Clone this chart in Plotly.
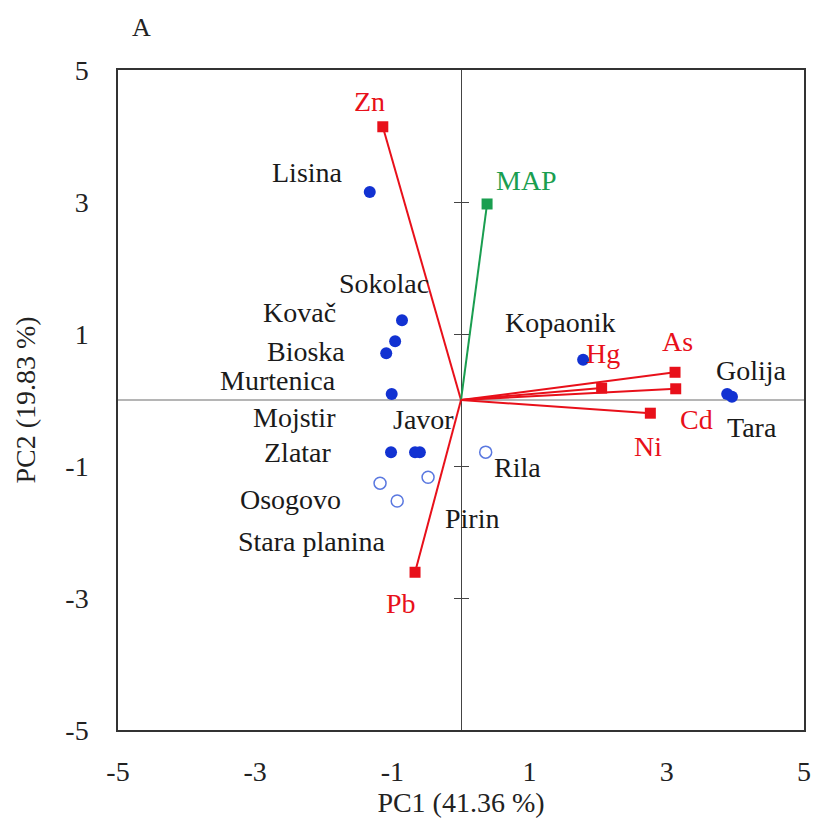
import plotly.graph_objects as go

# ---- data ----
site_names = ["Lisina", "Sokolac", "Kovač", "Bioska", "Murtenica", "Mojstir",
              "Javor", "Zlatar", "Kopaonik", "Golija", "Tara",
              "Rila", "Osogovo", "Stara planina", "Pirin"]
site_pc1 = [-1.33, -0.86, -0.96, -1.09, -1.01, -1.02, -0.60, -0.67, 1.78, 3.88, 3.95,
            0.36, -1.18, -0.93, -0.48]
site_pc2 = [3.15, 1.21, 0.89, 0.71, 0.09, -0.79, -0.79, -0.79, 0.61, 0.09, 0.05,
            -0.79, -1.26, -1.53, -1.17]
site_group = ["filled"] * 11 + ["open"] * 4

var_names = ["Zn", "MAP", "Pb", "As", "Cd", "Hg", "Ni"]
var_pc1 = [-1.14, 0.38, -0.67, 3.12, 3.13, 2.05, 2.76]
var_pc2 = [4.14, 2.97, -2.61, 0.42, 0.17, 0.18, -0.20]

tick_vals = [-5, -3, -1, 1, 3, 5]
tick_text = ["-5", "-3", "-1", "1", "3", "5"]
axis_range = [-5, 5]

# ---- label placement (layout only) ----
site_label_pos = {
    "Lisina": (-2.24, 3.45), "Sokolac": (-1.12, 1.77), "Kovač": (-2.35, 1.32),
    "Bioska": (-2.26, 0.73), "Murtenica": (-2.67, 0.30), "Mojstir": (-2.42, -0.27),
    "Javor": (-0.54, -0.30), "Zlatar": (-2.38, -0.79), "Osogovo": (-2.48, -1.50),
    "Stara planina": (-2.17, -2.15), "Pirin": (0.16, -1.80), "Rila": (0.82, -1.03),
    "Kopaonik": (1.44, 1.17), "Golija": (4.24, 0.45), "Tara": (4.24, -0.41),
}
var_label_pos = {
    "Zn": (-1.33, 4.53), "MAP": (0.95, 3.32), "Hg": (2.07, 0.70), "As": (3.15, 0.88),
    "Cd": (3.44, -0.30), "Ni": (2.73, -0.71), "Pb": (-0.87, -3.09),
}

RED = "#e8101a"
GREEN = "#1a9e50"
BLUE = "#1232d2"
OPEN_BLUE = "#5a78e0"
FONT = "Liberation Serif, Times New Roman, DejaVu Serif, serif"
FS = 28

fig = go.Figure()

# loading vectors
for n, vx, vy in zip(var_names, var_pc1, var_pc2):
    col = GREEN if n == "MAP" else RED
    fig.add_trace(go.Scatter(x=[0, vx], y=[0, vy], mode="lines",
                             line=dict(color=col, width=2), hoverinfo="skip",
                             showlegend=False))
    fig.add_trace(go.Scatter(x=[vx], y=[vy], mode="markers",
                             marker=dict(symbol="square", size=11, color=col),
                             showlegend=False, name=n))

# sites
fx = [x for x, g in zip(site_pc1, site_group) if g == "filled"]
fy = [y for y, g in zip(site_pc2, site_group) if g == "filled"]
ox = [x for x, g in zip(site_pc1, site_group) if g == "open"]
oy = [y for y, g in zip(site_pc2, site_group) if g == "open"]
fig.add_trace(go.Scatter(x=fx, y=fy, mode="markers",
                         marker=dict(symbol="circle", size=12, color=BLUE),
                         showlegend=False))
fig.add_trace(go.Scatter(x=ox, y=oy, mode="markers",
                         marker=dict(symbol="circle-open", size=12, color=OPEN_BLUE,
                                     line=dict(width=1.5, color=OPEN_BLUE)),
                         showlegend=False))

W, H = 813, 825
l, r, t, b = 118, 9, 70, 95
pw, ph = W - l - r, H - t - b

annotations = []
for n in site_names:
    lx, ly = site_label_pos[n]
    annotations.append(dict(x=lx, y=ly, text=n, showarrow=False, xref="x", yref="y",
                            xanchor="center", yanchor="middle",
                            font=dict(family=FONT, size=FS, color="#1a1a1a")))
for n in var_names:
    lx, ly = var_label_pos[n]
    col = GREEN if n == "MAP" else RED
    annotations.append(dict(x=lx, y=ly, text=n, showarrow=False, xref="x", yref="y",
                            xanchor="center", yanchor="middle",
                            font=dict(family=FONT, size=FS, color=col)))
annotations.append(dict(x=(141 - l) / pw, y=(H - b - 28) / ph, xref="paper", yref="paper",
                        xanchor="center", yanchor="middle",
                        text="A", showarrow=False,
                        font=dict(family=FONT, size=FS - 2, color="#222")))

fig.update_layout(
    width=W, height=H,
    margin=dict(l=l, r=r, t=t, b=b, autoexpand=False),
    paper_bgcolor="white", plot_bgcolor="white",
    font=dict(family=FONT, size=FS, color="#222"),
    showlegend=False,
    annotations=annotations,
    xaxis=dict(range=axis_range, tickvals=tick_vals, ticktext=tick_text, showgrid=False,
               showline=True, mirror=True, linecolor="#333", linewidth=1.5,
               ticks="", zeroline=True, zerolinecolor="#444", zerolinewidth=1,
               automargin=False,
               title=dict(text="PC1 (41.36 %)", font=dict(family=FONT, size=FS), standoff=4),
               tickfont=dict(family=FONT, size=FS), ticklabelstandoff=16),
    yaxis=dict(range=axis_range, tickvals=tick_vals, ticktext=tick_text, showgrid=False,
               showline=True, mirror=True, linecolor="#333", linewidth=1.5,
               ticks="", zeroline=True, zerolinecolor="#b5b5b5", zerolinewidth=1.5,
               automargin=False,
               title=dict(text="PC2 (19.83 %)", font=dict(family=FONT, size=FS), standoff=22),
               tickfont=dict(family=FONT, size=FS), ticklabelstandoff=22),
    yaxis2=dict(range=axis_range, overlaying="y", anchor="free", position=0.5,
                side="left", tickvals=[-3, -1, 1, 3], ticks="outside", ticklen=7,
                tickcolor="#444", tickwidth=1, showticklabels=False, showgrid=False,
                showline=False, zeroline=False, automargin=False),
    yaxis3=dict(range=axis_range, overlaying="y", anchor="free", position=0.5,
                side="right", tickvals=[-3, -1, 1, 3], ticks="outside", ticklen=7,
                tickcolor="#444", tickwidth=1, showticklabels=False, showgrid=False,
                showline=False, zeroline=False, automargin=False),
)

# invisible traces to activate the tick axes
fig.add_trace(go.Scatter(x=[0], y=[0], yaxis="y2", mode="markers",
                         marker=dict(opacity=0), hoverinfo="skip", showlegend=False))
fig.add_trace(go.Scatter(x=[0], y=[0], yaxis="y3", mode="markers",
                         marker=dict(opacity=0), hoverinfo="skip", showlegend=False))

fig.write_html("out.html")
